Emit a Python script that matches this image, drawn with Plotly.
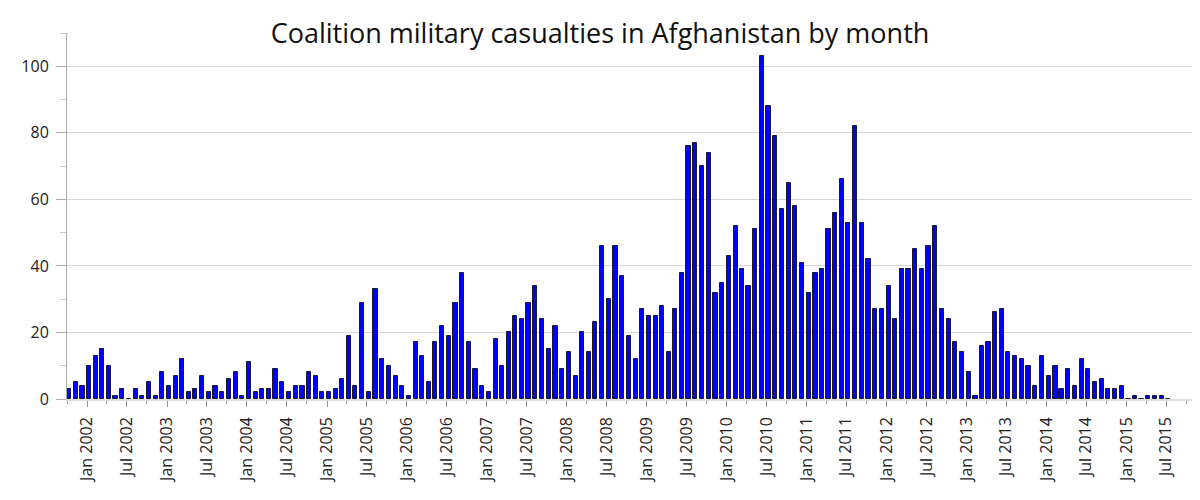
import pandas as pd
import plotly.graph_objects as go

# Monthly coalition military deaths, Oct 2001 – Jul 2015
start_month = "2001-10-01"
casualties = [
    3, 5, 4,                                        # 2001 Oct-Dec
    10, 13, 15, 10, 1, 3, 0, 3, 1, 5, 1, 8,         # 2002
    4, 7, 12, 2, 3, 7, 2, 4, 2, 6, 8, 1,            # 2003
    11, 2, 3, 3, 9, 5, 2, 4, 4, 8, 7, 2,            # 2004
    2, 3, 6, 19, 4, 29, 2, 33, 12, 10, 7, 4,        # 2005
    1, 17, 13, 5, 17, 22, 19, 29, 38, 17, 9, 4,     # 2006
    2, 18, 10, 20, 25, 24, 29, 34, 24, 15, 22, 9,   # 2007
    14, 7, 20, 14, 23, 46, 30, 46, 37, 19, 12, 27,  # 2008
    25, 25, 28, 14, 27, 38, 76, 77, 70, 74, 32, 35, # 2009
    43, 52, 39, 34, 51, 103, 88, 79, 57, 65, 58, 41,# 2010
    32, 38, 39, 51, 56, 66, 53, 82, 53, 42, 27, 27, # 2011
    34, 24, 39, 39, 45, 39, 46, 52, 27, 24, 17, 14, # 2012
    8, 1, 16, 17, 26, 27, 14, 13, 12, 10, 4, 13,    # 2013
    7, 10, 3, 9, 4, 12, 9, 5, 6, 3, 3, 4,           # 2014
    0, 1, 0, 1, 1, 1, 0,                            # 2015 Jan-Jul
]
months = pd.date_range(start_month, periods=len(casualties), freq="MS")

title_text = "Coalition military casualties in Afghanistan by month"
x_range = ["2001-10-01", "2015-11-01"]
y_ticks = [0, 20, 40, 60, 80, 100]

DAY_MS = 86400000
FONT = "Open Sans"

fig = go.Figure()
fig.add_trace(go.Bar(
    x=months,
    y=casualties,
    width=19 * DAY_MS,
    offset=0,
    marker=dict(color="#0000ff", line=dict(color="#1a1a2e", width=1)),
    hoverinfo="x+y",
))

fig.update_layout(
    width=1200,
    height=500,
    margin=dict(l=59, r=15, t=25, b=109),
    paper_bgcolor="white",
    plot_bgcolor="white",
    showlegend=False,
    bargap=0,
    font=dict(family=FONT, size=16, color="#222222"),
    title=dict(
        text=title_text,
        x=592 / 1200, xanchor="center",
        y=1 - 26 / 500, yanchor="middle", yref="container",
        font=dict(family=FONT, size=27, color="#111111"),
    ),
    xaxis=dict(
        type="date",
        range=x_range,
        tick0="2002-01-01",
        dtick="M6",
        tickformat="%b %Y",
        tickangle=-90,
        ticks="outside",
        ticklen=6,
        tickcolor="#999999",
        tickwidth=1,
        ticklabelstandoff=4,
        showgrid=False,
        showline=True,
        linecolor="#dddddd",
        linewidth=1.5,
        zeroline=False,
        tickfont=dict(family=FONT, size=16, color="#222222"),
        minor=dict(dtick="M3", tick0="2002-01-01", ticks="outside", ticklen=3,
                   tickcolor="#999999", showgrid=False),
        automargin=False,
    ),
    xaxis2=dict(
        type="date",
        range=x_range,
        overlaying="x",
        anchor="y",
        side="bottom",
        tick0="2002-01-01",
        dtick="M12",
        ticks="outside",
        ticklen=10,
        tickcolor="#999999",
        tickwidth=1,
        showticklabels=False,
        showgrid=False,
        showline=False,
        zeroline=False,
        automargin=False,
    ),
    yaxis=dict(
        range=[0, 110],
        tickvals=y_ticks,
        ticks="outside",
        ticklen=10,
        tickcolor="#aaaaaa",
        ticklabelstandoff=4,
        showgrid=True,
        gridcolor="#d6d6d6",
        gridwidth=1,
        showline=True,
        linecolor="#aaaaaa",
        linewidth=1,
        zeroline=False,
        tickfont=dict(family=FONT, size=16, color="#222222"),
        minor=dict(dtick=10, tick0=0, ticks="outside", ticklen=6,
                   tickcolor="#cccccc", showgrid=False),
        automargin=False,
    ),
)

fig.write_html("out.html")
